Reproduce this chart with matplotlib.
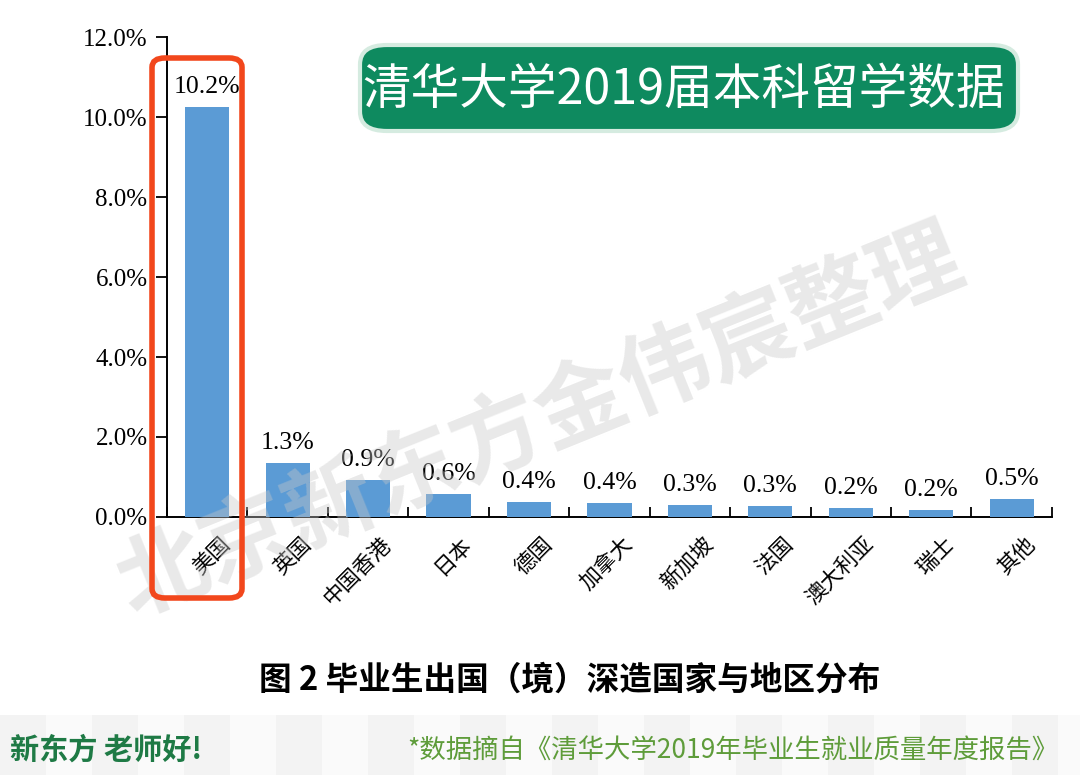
import numpy as np
import matplotlib.pyplot as plt
from matplotlib.patches import FancyBboxPatch, Rectangle

plt.rcParams['font.family'] = ['Noto Sans CJK SC', 'DejaVu Sans']

# ---------------------- 数据 ----------------------
countries = ['美国', '英国', '中国香港', '日本', '德国', '加拿大', '新加坡', '法国', '澳大利亚', '瑞士', '其他']
shares = [10.25, 1.35, 0.92, 0.58, 0.38, 0.36, 0.31, 0.27, 0.22, 0.18, 0.46]
share_labels = ['10.2%', '1.3%', '0.9%', '0.6%', '0.4%', '0.4%', '0.3%', '0.3%', '0.2%', '0.2%', '0.5%']
y_ticks = [0, 2, 4, 6, 8, 10, 12]

fig = plt.figure(figsize=(10.8, 7.75), dpi=100)
ax = fig.add_axes([0.1546, 0.333, 0.8194, 0.619])

x = np.arange(len(countries))
ax.bar(x, shares, width=0.55, color='#5B9BD5', zorder=3)
for xi, v, lab in zip(x, shares, share_labels):
    ax.text(xi, v + 0.22, lab, ha='center', va='bottom', fontsize=18.5,
            family='Liberation Serif', zorder=4)

ax.set_xlim(-0.5, len(countries) - 0.5)
ax.set_ylim(0, 12)
ax.set_yticks(y_ticks)
ax.set_yticklabels([f'{t:.1f}%' for t in y_ticks], family='Liberation Serif', fontsize=18)
ax.tick_params(axis='y', direction='out', length=8, width=1.3, pad=6)

# x 轴刻度在类别边界处, 朝内
ax.set_xticks(np.arange(-0.5, len(countries), 1.0))
ax.set_xticklabels([])
ax.tick_params(axis='x', direction='in', length=7, width=1.3)
for xi, name in zip(x, countries):
    ax.text(xi + 0.15, -0.4, name, rotation=45, ha='right', va='top',
            rotation_mode='anchor', fontsize=15.5, fontweight='light',
            transform=ax.transData, clip_on=False)

for s in ['top', 'right']:
    ax.spines[s].set_visible(False)
ax.spines['left'].set_linewidth(1.4)
ax.spines['bottom'].set_linewidth(1.4)

# 水印
fig.text(0.5, 0.455, '北京新东方金伟宸整理', rotation=22, fontsize=65,
         color='#c8c8c8', alpha=0.4, ha='center', va='center', fontweight='bold', zorder=10)

# 美国 红框
fig.patches.append(FancyBboxPatch((152 / 1080, 1 - 598 / 775), 90 / 1080, 540 / 775,
                                  boxstyle='round,pad=0,rounding_size=0.012',
                                  transform=fig.transFigure, fill=False,
                                  edgecolor='#F2471C', linewidth=4, zorder=20))

# 标题框
fig.patches.append(FancyBboxPatch((360 / 1080, 1 - 131 / 775), 658 / 1080, 86 / 775,
                                  boxstyle='round,pad=0,rounding_size=0.025',
                                  transform=fig.transFigure, facecolor='#0E8A5F',
                                  edgecolor='#d5ebe0', linewidth=3, zorder=20))
fig.text(684 / 1080, 1 - 90 / 775, '清华大学2019届本科留学数据', color='white', fontsize=35,
         ha='center', va='center', zorder=21)

# 图注
fig.text(570 / 1080, 1 - 680 / 775, '图 2 毕业生出国（境）深造国家与地区分布', fontsize=23.5,
         fontweight='bold', ha='center', va='center')

# 底部条
for i in range(0, 1080, 46):
    shade = '#f3f3f3' if (i // 46) % 2 == 0 else '#fafafa'
    fig.patches.append(Rectangle((i / 1080, 0), 46 / 1080, 60 / 775, transform=fig.transFigure,
                                 facecolor=shade, edgecolor='none', zorder=0))
fig.text(10 / 1080, 1 - 750 / 775, '新东方 老师好!', fontsize=21, fontweight='heavy',
         color='#1E7A45', ha='left', va='center')
fig.text(1058 / 1080, 1 - 750 / 775, '*数据摘自《清华大学2019年毕业生就业质量年度报告》',
         fontsize=19, color='#5E9C3A', ha='right', va='center')

plt.savefig('out.png', dpi=100)
